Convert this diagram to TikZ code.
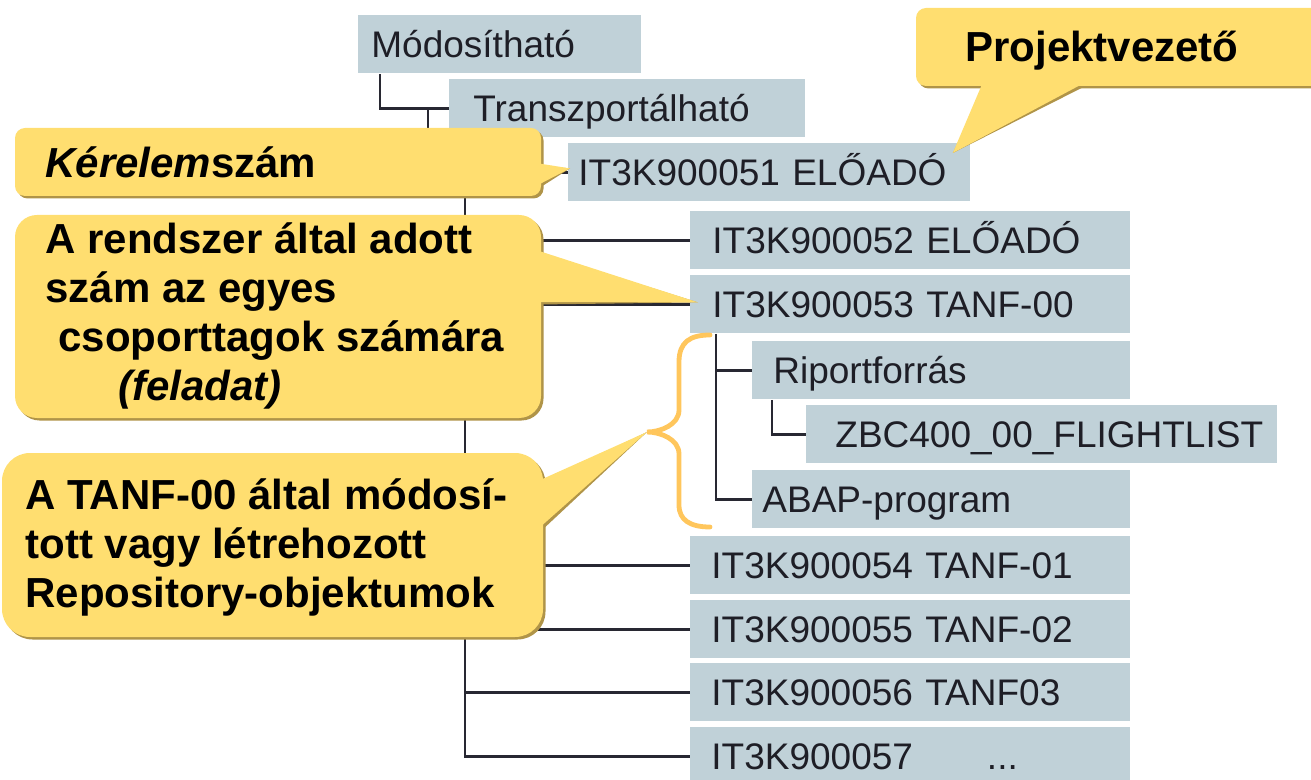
\documentclass[tikz,border=0pt]{standalone}
\usepackage{fontspec}
\setmainfont{Liberation Sans}
\usetikzlibrary{calc}

\definecolor{boxgray}{RGB}{192,209,216}
\definecolor{lineink}{RGB}{40,40,50}
\definecolor{boxink}{RGB}{30,30,38}
\definecolor{noteyellow}{RGB}{255,222,112}
\definecolor{noteshade}{RGB}{176,148,72}
\definecolor{braceorange}{RGB}{255,198,92}

\tikzset{
  objbox/.style 2 args={fill=boxgray, anchor=north west, inner ysep=0pt, inner xsep=#2,
    text width=#1, align=left, minimum height=29pt, text height=13.2pt, text depth=0pt,
    text=boxink, font=\fontsize{18.5}{22}\selectfont},
  treeline/.style={draw=lineink, line width=1.3pt},
  notetext/.style={font=\bfseries\fontsize{21}{24.5}\selectfont, inner sep=0pt,
    text height=15pt, text depth=0pt},
  notemulti/.style={font=\bfseries\fontsize{21}{24.5}\selectfont, inner sep=0pt, align=left},
  bracestroke/.style={draw=braceorange, line width=2.4pt, line cap=round}
}

% yellow speech bubbles, drawn twice (shade, then face)
\newcommand{\notebubbles}[1]{%
  \fill[#1, rounded corners=5pt] (916,8) rectangle (1340,86);
  \fill[#1] (983,82) -- (1086,82) -- ($(req51.north east)+(-18,10)$) -- cycle;
  \fill[#1, rounded corners=5pt] (15,128) rectangle (541,196);
  \fill[#1] (536,163) -- ($(req51.west)+(2,-4)$) -- (536,186) -- cycle;
  \fill[#1, rounded corners=11pt] (15,215) rectangle (541,418);
  \fill[#1] (536,250) -- ($(t53.west)+(8,-2)$) -- (536,302) -- cycle;
  \fill[#1, rounded corners=14pt] (2,453) rectangle (543,637);
  \fill[#1] (538,481) -- (bracetip) -- (538,529) -- cycle;
}

\begin{document}
\begin{tikzpicture}[x=0.5pt, y=-0.5pt]
  \useasboundingbox (0,0) rectangle (1311,780);

  % object boxes
  \node[objbox={128.5pt}{6.5pt}] (mod) at (358,15) {Módosítható};
  \node[objbox={154pt}{12pt}] (trans) at (449,79) {Transzportálható};
  \node[objbox={191pt}{5pt}] (req51) at (568,143) {IT3K900051 ELŐADÓ};
  \node[objbox={198pt}{11pt}] (t52) at (690,211) {IT3K900052 ELŐADÓ};
  \node[objbox={198pt}{11pt}] (t53) at (690,275) {IT3K900053 TANF-00};
  \node[objbox={168pt}{10.5pt}] (rep) at (752,341) {Riportforrás};
  \node[objbox={206.5pt}{14.5pt}] (zbc) at (806,405) {ZBC400\_00\_FLIGHTLIST};
  \node[objbox={179pt}{5pt}] (abap) at (752,470) {ABAP-program};
  \node[objbox={199pt}{10.5pt}] (t54) at (690,536) {IT3K900054 TANF-01};
  \node[objbox={199pt}{10.5pt}] (t55) at (690,600) {IT3K900055 TANF-02};
  \node[objbox={199pt}{10.5pt}] (t56) at (690,663) {IT3K900056 TANF03};
  \node[objbox={199pt}{10.5pt}] (t57) at (690,727) {IT3K900057\hspace{37pt}...};

  % tree lines
  \draw[treeline] ($(mod.south west)+(22,0)$) |- (trans.west);
  \draw[treeline] ($(trans.west)+(-21,0)$) |- (req51.west);
  \coordinate (trunk) at ($(req51.west)+(-103,0)$);
  \draw[treeline] (trunk) |- (t57.west);
  \foreach \t in {t52,t53,t54,t55,t56}
    \draw[treeline] (trunk |- \t.west) -- (\t.west);
  \coordinate (subtrunk) at ($(t53.south west)+(26,0)$);
  \draw[treeline] (subtrunk) |- (rep.west);
  \draw[treeline] (subtrunk) |- (abap.west);
  \draw[treeline] ($(rep.south west)+(20,0)$) |- (zbc.west);

  % callouts
  \coordinate (bracetip) at (647,432);
  \notebubbles{noteshade, shift={(2.5,2.5)}}
  \notebubbles{noteyellow}

  \node[notetext, anchor=west] (projnote) at (965,47) {Projektvezető};
  \node[notetext, anchor=west] (reqnote) at (45,163) {\textit{Kérelem}szám};
  \node[notemulti, anchor=north west] (tasknote) at (45,222)
    {A rendszer által adott\\ szám az egyes\\ \hspace*{6.5pt}csoporttagok számára\\ \hspace*{36.5pt}\textit{(feladat)}};
  \node[notemulti, anchor=north west] (objnote) at (25,478)
    {A TANF-00 által módosí-\\ tott vagy létrehozott\\ Repository-objektumok};

  % brace
  \draw[bracestroke] (710,335) .. controls (690,335) and (679,342) .. (679,362) -- (679,410)
    .. controls (679,425) and (660,432) .. (bracetip)
    .. controls (660,432) and (679,439) .. (679,454) -- (679,505)
    .. controls (679,520) and (690,527) .. (710,527);
\end{tikzpicture}
\end{document}
